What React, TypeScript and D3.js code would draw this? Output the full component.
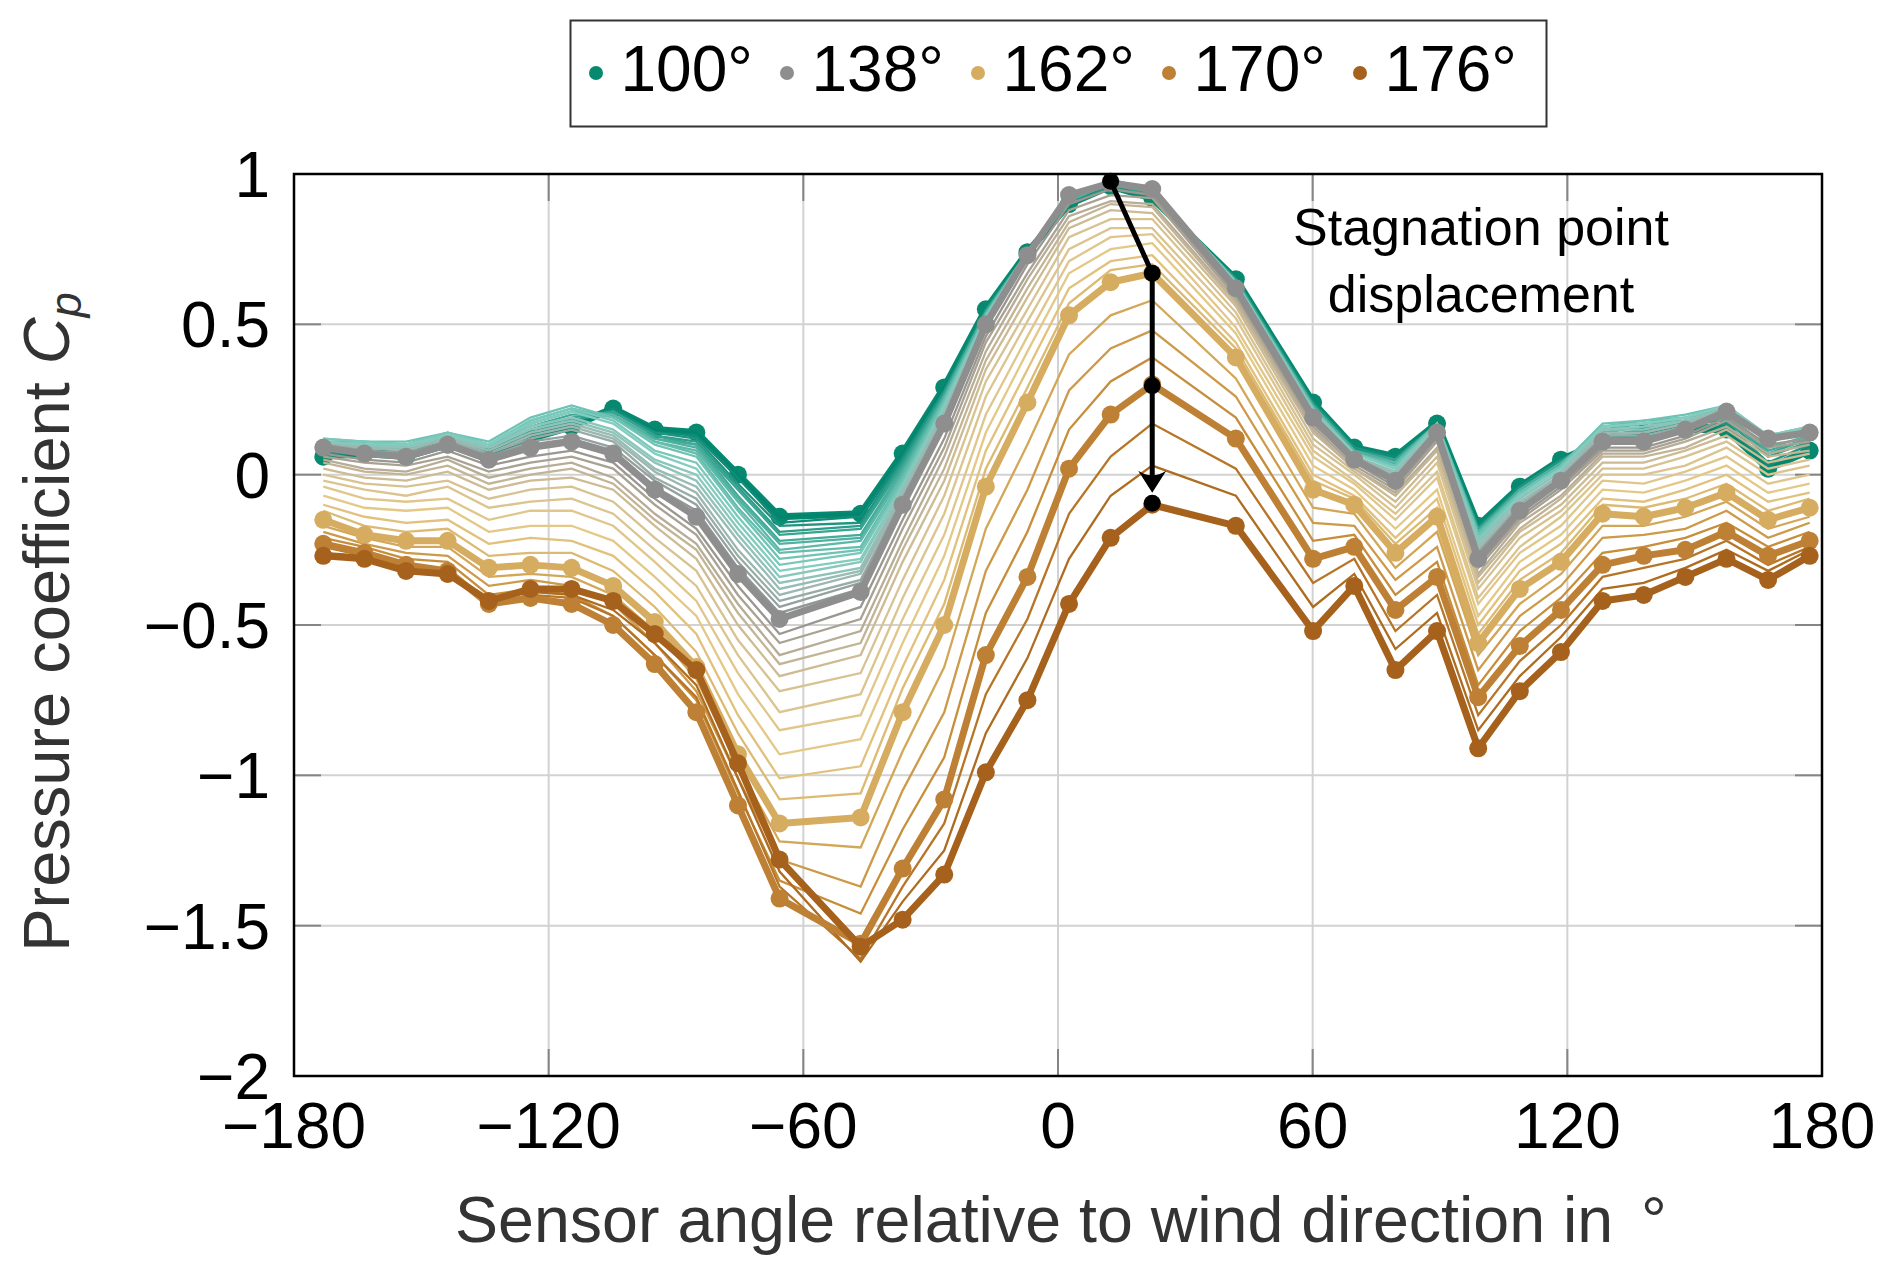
import React from "react";
import * as d3 from "d3";

// Sensor angles relative to wind direction (degrees)
const SENSOR_ANGLES = [
  -173.1, -163.4, -153.6, -143.8, -134.1, -124.3, -114.6, -104.8, -95.0, -85.2, -75.4, -65.6,
  -46.5, -36.6, -26.8, -17.0, -7.2, 2.6, 12.4, 22.2, 41.9,
  60.1, 69.8, 79.5, 89.3, 99.0, 108.8, 118.5, 128.3, 138.0, 147.8, 157.5, 167.3, 177.1,
];

// Wind directions of the curve family (degrees)
const WIND_ANGLES = [
  100, 102, 104, 106, 108, 110, 112, 114, 116, 118, 120, 122, 124, 126, 128, 130, 132, 134, 136, 138,
  140, 142, 144, 146, 148, 150, 152, 154, 156, 158, 160, 162, 164, 166, 168, 170, 172, 174, 176,
];

// Highlighted wind directions (legend)
const LEGEND_ANGLES = [100, 138, 162, 170, 176];
const LEGEND_LABELS = ["100°", "138°", "162°", "170°", "176°"];

// Pressure coefficient × 100, one row per sensor, columns follow WIND_ANGLES
const CP_BY_SENSOR: number[][] = [
  [6, 7, 7, 8, 9, 9, 10, 11, 11, 12, 12, 11, 11, 11, 10, 10, 10, 10, 9, 9, 7, 6, 5, 4, 2, 0, -2, -4, -7, -10, -12, -15, -17, -19, -21, -23, -24, -26, -27],
  [7, 7, 8, 8, 9, 9, 10, 10, 11, 11, 11, 10, 10, 9, 9, 9, 8, 8, 7, 7, 5, 4, 2, 1, -1, -3, -5, -8, -11, -14, -17, -20, -21, -23, -24, -26, -27, -27, -28],
  [6, 7, 7, 8, 8, 9, 9, 10, 10, 11, 10, 10, 9, 9, 8, 8, 7, 7, 6, 6, 4, 3, 1, 0, -2, -4, -7, -9, -12, -16, -19, -22, -24, -26, -28, -30, -31, -31, -32],
  [10, 10, 11, 11, 12, 12, 13, 13, 14, 14, 14, 13, 13, 12, 12, 12, 11, 11, 10, 10, 8, 6, 5, 3, 1, -2, -4, -8, -11, -15, -18, -22, -24, -27, -29, -32, -32, -33, -33],
  [6, 7, 7, 8, 8, 9, 9, 10, 10, 11, 10, 10, 9, 9, 8, 7, 7, 6, 6, 5, 3, 1, -1, -3, -5, -8, -11, -15, -19, -23, -27, -31, -34, -37, -40, -43, -43, -42, -42],
  [12, 13, 14, 14, 15, 16, 17, 17, 18, 19, 18, 17, 16, 15, 14, 13, 12, 11, 10, 9, 6, 4, 2, 0, -2, -5, -9, -12, -17, -21, -26, -30, -33, -35, -38, -41, -40, -39, -38],
  [16, 17, 18, 18, 19, 20, 21, 21, 22, 23, 22, 21, 19, 18, 17, 16, 15, 13, 12, 11, 8, 6, 4, 2, -1, -4, -8, -12, -17, -22, -26, -31, -34, -37, -40, -43, -41, -40, -38],
  [22, 22, 21, 21, 21, 20, 20, 20, 19, 19, 18, 17, 15, 14, 13, 12, 11, 9, 8, 7, 4, 2, -1, -3, -5, -9, -13, -17, -22, -27, -32, -37, -40, -43, -47, -50, -47, -45, -42],
  [15, 14, 14, 13, 13, 12, 12, 11, 11, 10, 8, 7, 5, 4, 2, 1, -1, -2, -4, -5, -8, -10, -13, -15, -17, -21, -25, -29, -34, -39, -44, -49, -52, -56, -60, -63, -60, -56, -53],
  [14, 13, 12, 11, 10, 10, 9, 8, 7, 6, 4, 2, 0, -2, -4, -6, -8, -10, -12, -14, -18, -20, -23, -25, -28, -32, -37, -42, -47, -53, -59, -64, -68, -72, -75, -79, -74, -70, -65],
  [0, -1, -3, -4, -5, -7, -8, -9, -11, -12, -14, -16, -18, -20, -22, -25, -27, -29, -31, -33, -37, -40, -43, -46, -50, -55, -60, -66, -73, -80, -86, -93, -97, -101, -106, -110, -105, -101, -96],
  [-14, -16, -17, -19, -20, -22, -23, -25, -26, -28, -30, -32, -34, -36, -38, -40, -42, -44, -46, -48, -53, -56, -60, -63, -67, -72, -79, -85, -93, -101, -108, -116, -122, -128, -135, -141, -137, -132, -128],
  [-13, -14, -16, -17, -18, -20, -21, -22, -24, -25, -26, -28, -29, -31, -32, -33, -35, -36, -38, -39, -44, -48, -52, -56, -60, -66, -73, -80, -88, -97, -106, -114, -124, -137, -146, -156, -161, -162, -157],
  [7, 6, 5, 4, 3, 2, 1, 0, -1, -2, -3, -4, -4, -5, -6, -7, -8, -8, -9, -10, -15, -18, -22, -25, -29, -35, -41, -48, -56, -64, -71, -79, -92, -105, -118, -131, -137, -142, -148],
  [29, 28, 28, 27, 27, 26, 26, 25, 25, 24, 23, 23, 22, 21, 20, 20, 19, 18, 18, 17, 12, 9, 6, 2, -2, -7, -13, -20, -27, -35, -43, -50, -64, -79, -94, -108, -116, -125, -133],
  [55, 55, 55, 54, 54, 54, 54, 53, 53, 53, 53, 52, 52, 52, 51, 51, 51, 51, 50, 50, 46, 44, 41, 38, 35, 31, 26, 20, 14, 8, 2, -4, -18, -32, -46, -60, -73, -86, -99],
  [74, 74, 74, 74, 74, 74, 74, 74, 74, 74, 74, 74, 74, 74, 73, 73, 73, 73, 73, 73, 70, 67, 65, 62, 59, 55, 51, 46, 41, 35, 29, 24, 10, -5, -19, -34, -48, -61, -75],
  [90, 90, 90, 91, 91, 91, 91, 92, 92, 92, 92, 92, 92, 92, 93, 93, 93, 93, 93, 93, 90, 88, 86, 84, 82, 79, 75, 71, 67, 62, 57, 53, 40, 28, 15, 2, -13, -28, -43],
  [96, 96, 96, 97, 97, 97, 97, 98, 98, 98, 98, 98, 98, 98, 97, 97, 97, 97, 97, 97, 95, 93, 91, 90, 88, 85, 82, 79, 75, 71, 68, 64, 53, 42, 31, 20, 6, -7, -21],
  [92, 92, 93, 93, 93, 94, 94, 94, 95, 95, 95, 95, 95, 95, 95, 95, 95, 95, 95, 95, 93, 92, 90, 89, 87, 85, 82, 80, 77, 73, 70, 67, 58, 48, 39, 30, 17, 3, -10],
  [65, 65, 65, 65, 65, 64, 64, 64, 64, 64, 64, 64, 63, 63, 63, 63, 63, 62, 62, 62, 60, 59, 58, 57, 56, 54, 52, 49, 47, 44, 42, 39, 32, 26, 19, 12, 2, -7, -17],
  [24, 24, 24, 23, 23, 23, 23, 22, 22, 22, 22, 21, 21, 21, 20, 20, 20, 20, 19, 19, 17, 16, 15, 14, 12, 10, 8, 6, 3, 0, -2, -5, -11, -16, -22, -28, -36, -44, -52],
  [9, 9, 9, 8, 8, 8, 8, 7, 7, 7, 7, 7, 6, 6, 6, 6, 6, 5, 5, 5, 4, 3, 2, 2, 1, 0, -2, -3, -5, -7, -8, -10, -13, -17, -20, -24, -28, -33, -37],
  [6, 6, 5, 5, 5, 4, 4, 4, 3, 3, 2, 2, 1, 1, 0, 0, -1, -1, -2, -2, -4, -5, -6, -7, -9, -11, -13, -15, -18, -21, -23, -26, -31, -35, -40, -45, -52, -58, -65],
  [17, 17, 17, 17, 17, 17, 17, 17, 17, 17, 17, 16, 16, 16, 15, 15, 15, 15, 14, 14, 12, 11, 9, 8, 6, 4, 1, -1, -5, -8, -11, -14, -19, -24, -29, -34, -40, -46, -52],
  [-17, -17, -18, -18, -18, -19, -19, -19, -20, -20, -21, -22, -22, -23, -24, -25, -26, -26, -27, -28, -30, -31, -33, -34, -36, -38, -41, -43, -47, -50, -53, -56, -60, -65, -70, -74, -80, -85, -91],
  [-4, -4, -4, -5, -5, -5, -5, -6, -6, -6, -7, -7, -8, -8, -9, -10, -10, -11, -11, -12, -14, -15, -16, -18, -19, -21, -24, -26, -29, -32, -35, -38, -43, -47, -52, -57, -62, -67, -72],
  [5, 5, 5, 4, 4, 4, 4, 3, 3, 3, 2, 2, 1, 1, 0, 0, -1, -1, -2, -2, -4, -5, -7, -8, -10, -12, -14, -17, -20, -23, -26, -29, -33, -37, -41, -45, -50, -54, -59],
  [11, 12, 12, 13, 14, 14, 15, 16, 16, 17, 16, 16, 15, 15, 14, 13, 13, 12, 12, 11, 9, 8, 7, 6, 4, 2, 0, -2, -5, -8, -10, -13, -17, -21, -26, -30, -34, -38, -42],
  [14, 14, 15, 15, 16, 16, 17, 17, 18, 18, 17, 17, 16, 15, 14, 14, 13, 12, 12, 11, 9, 8, 7, 6, 4, 2, 0, -3, -6, -9, -11, -14, -17, -20, -24, -27, -31, -36, -40],
  [15, 16, 16, 17, 17, 18, 18, 19, 19, 20, 19, 19, 18, 18, 17, 17, 16, 16, 15, 15, 13, 12, 11, 9, 8, 6, 3, 1, -2, -5, -8, -11, -14, -18, -21, -25, -28, -31, -34],
  [15, 16, 17, 18, 19, 19, 20, 21, 22, 23, 23, 23, 22, 22, 22, 22, 22, 21, 21, 21, 19, 18, 16, 15, 13, 11, 9, 6, 3, 0, -3, -6, -9, -12, -16, -19, -22, -25, -28],
  [2, 3, 4, 6, 7, 8, 9, 11, 12, 13, 13, 13, 13, 13, 12, 12, 12, 12, 12, 12, 10, 9, 7, 6, 4, 2, 0, -3, -6, -9, -12, -15, -18, -21, -24, -27, -30, -32, -35],
  [8, 9, 10, 11, 12, 12, 13, 14, 15, 16, 16, 16, 15, 15, 15, 15, 15, 14, 14, 14, 12, 11, 10, 8, 7, 5, 3, 0, -3, -6, -8, -11, -14, -16, -19, -22, -24, -25, -27],
];

// Stagnation point trace (sensor angle, Cp)
const STAG_ANGLES = [12.4, 22.2, 22.2, 22.2];
const STAG_CP = [0.976, 0.67, 0.296, -0.095];
const STAG_ARROW_TIP = -0.06;

const X_TICKS = [-180, -120, -60, 0, 60, 120, 180];
const Y_TICKS = [1, 0.5, 0, -0.5, -1, -1.5, -2];

// Colour map of the curve family
const COLOR_STOPS = [100, 106, 114, 122, 130, 138, 144, 150, 156, 162, 170, 176];
const COLOR_VALUES = [
  "#018571", "#2b9d89", "#5cb8a8", "#82cdc0", "#9cb6b0", "#8c8c8c",
  "#b7ad97", "#d7c291", "#e4c886", "#dab366", "#bf812d", "#a6611a",
];
const HIGHLIGHT_COLORS = ["#07896f", "#8e8e8e", "#d6ac60", "#bd8034", "#a6611c"];

const FONT = "'Liberation Sans', Arial, Helvetica, sans-serif";

const fmt = (v: number) => (v < 0 ? "\u2212" + String(Math.abs(v)) : String(v));

type Pt = { s: number; cp: number };

export default function App() {
  const W = 1892;
  const H = 1276;
  const L = 294, R = 1822, T = 174, B = 1076;

  const x = d3.scaleLinear().domain([-180, 180]).range([L, R]);
  const y = d3.scaleLinear().domain([-2, 1]).range([B, T]);
  const color = d3
    .scaleLinear<string>()
    .domain(COLOR_STOPS)
    .range(COLOR_VALUES)
    .interpolate(d3.interpolateRgb);

  const series = WIND_ANGLES.map((angle, j) => ({
    angle,
    pts: SENSOR_ANGLES.map((s, i) => ({ s, cp: CP_BY_SENSOR[i][j] / 100 })) as Pt[],
  }));
  const line = d3
    .line<Pt>()
    .x((d) => x(d.s))
    .y((d) => y(d.cp));

  const highlighted = LEGEND_ANGLES.map((a, k) => ({
    color: HIGHLIGHT_COLORS[k],
    pts: series.find((s) => s.angle === a)!.pts,
  }));

  const stagPts: Pt[] = STAG_ANGLES.map((s, i) => ({ s, cp: STAG_CP[i] }));
  const stagPath: Pt[] = [...stagPts.slice(0, 3), { s: STAG_ANGLES[3], cp: STAG_ARROW_TIP + 0.03 }];
  const tipX = x(STAG_ANGLES[3]);
  const tipY = y(STAG_ARROW_TIP);

  const tickLen = 27;
  const legendX0 = 596;
  const legendStep = 191;

  const renderHighlight = (h: { color: string; pts: Pt[] }, key: string) => (
    <g key={key}>
      <path d={line(h.pts) || ""} fill="none" stroke={h.color} strokeWidth={7} strokeLinejoin="round" />
      {h.pts.map((p, i) => (
        <circle key={i} cx={x(p.s)} cy={y(p.cp)} r={9} fill={h.color} />
      ))}
    </g>
  );

  return (
    <svg
      width={W}
      height={H}
      viewBox={`0 0 ${W} ${H}`}
      style={{ position: "absolute", left: 0, top: 0, background: "#fff" }}
      fontFamily={FONT}
    >
      <rect x={0} y={0} width={W} height={H} fill="#fff" />

      {/* grid */}
      <g stroke="#d2d2d2" strokeWidth={2}>
        {X_TICKS.map((t) => (
          <line key={"gx" + t} x1={x(t)} x2={x(t)} y1={T} y2={B} />
        ))}
        {Y_TICKS.map((t) => (
          <line key={"gy" + t} x1={L} x2={R} y1={y(t)} y2={y(t)} />
        ))}
      </g>
      {/* inward ticks */}
      <g stroke="#858585" strokeWidth={2}>
        {X_TICKS.map((t) => (
          <g key={"tx" + t}>
            <line x1={x(t)} x2={x(t)} y1={B} y2={B - tickLen} />
            <line x1={x(t)} x2={x(t)} y1={T} y2={T + tickLen} />
          </g>
        ))}
        {Y_TICKS.map((t) => (
          <g key={"ty" + t}>
            <line x1={L} x2={L + tickLen} y1={y(t)} y2={y(t)} />
            <line x1={R} x2={R - tickLen} y1={y(t)} y2={y(t)} />
          </g>
        ))}
      </g>

      {/* 100° highlighted curve sits beneath the family */}
      {renderHighlight(highlighted[0], "h0")}

      {/* thin family of curves */}
      <g fill="none" strokeWidth={2.3} strokeLinejoin="miter">
        {series.map((s) => (
          <path key={"s" + s.angle} d={line(s.pts) || ""} stroke={color(s.angle)} />
        ))}
      </g>

      {/* other highlighted curves with markers */}
      {highlighted.slice(1).map((h, k) => renderHighlight(h, "h" + (k + 1)))}

      {/* stagnation point displacement */}
      <g>
        <path d={line(stagPath) || ""} fill="none" stroke="#000" strokeWidth={5} />
        <path
          d={`M${tipX},${tipY} L${tipX - 14},${tipY - 22} Q${tipX},${tipY - 13} ${tipX + 14},${tipY - 22} Z`}
          fill="#000"
        />
        {stagPts.map((p, i) => (
          <circle key={"st" + i} cx={x(p.s)} cy={y(p.cp)} r={8.5} fill="#000" />
        ))}
      </g>
      <text x={1481} y={245} fontSize={52} textAnchor="middle" fill="#000">
        Stagnation point
      </text>
      <text x={1481} y={312} fontSize={52} textAnchor="middle" fill="#000">
        displacement
      </text>

      {/* axis frame */}
      <rect x={L} y={T} width={R - L} height={B - T} fill="none" stroke="#000" strokeWidth={2.5} />

      {/* tick labels */}
      <g fontSize={64} fill="#000">
        {X_TICKS.map((t) => (
          <text key={"lx" + t} x={x(t)} y={1148} textAnchor="middle">
            {fmt(t)}
          </text>
        ))}
        {Y_TICKS.map((t) => (
          <text key={"ly" + t} x={270} y={y(t) + 23} textAnchor="end">
            {fmt(t)}
          </text>
        ))}
      </g>

      {/* axis titles */}
      <text x={1061} y={1242} fontSize={64.5} textAnchor="middle" fill="#333">
        Sensor angle relative to wind direction in<tspan dx={10}> °</tspan>
      </text>
      <text transform="translate(69,622) rotate(-90)" fontSize={65} textAnchor="middle" fill="#333">
        Pressure coefficient <tspan fontStyle="italic">C</tspan>
        <tspan fontStyle="italic" fontSize={45} dy={12}>
          p
        </tspan>
      </text>

      {/* legend */}
      <rect x={570.5} y={20.5} width={976} height={106} fill="#fff" stroke="#333" strokeWidth={2} />
      {LEGEND_ANGLES.map((a, k) => (
        <g key={"lg" + a}>
          <circle cx={legendX0 + k * legendStep} cy={73} r={7} fill={HIGHLIGHT_COLORS[k]} />
          <text x={legendX0 + k * legendStep + 24.5} y={91} fontSize={64} fill="#000">
            {LEGEND_LABELS[k]}
          </text>
        </g>
      ))}
    </svg>
  );
}
